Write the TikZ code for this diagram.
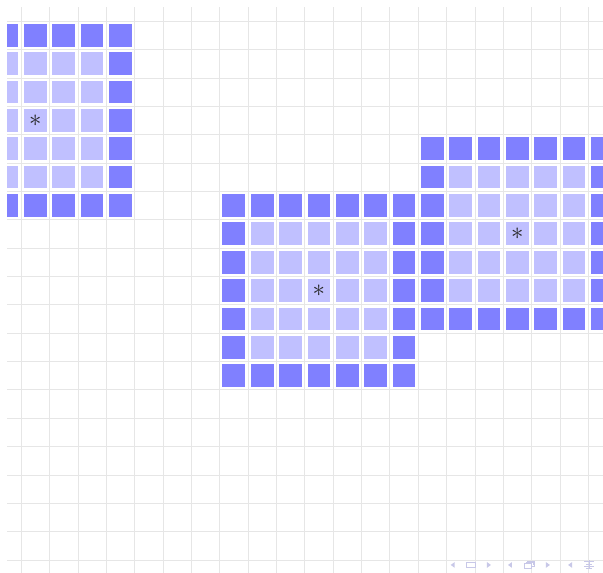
\documentclass[tikz,border=0pt]{standalone}
\usepackage{xcolor}
\usepackage{tikz}
\definecolor{cellD}{HTML}{8080FF}
\definecolor{cellL}{HTML}{C0C0FF}
\definecolor{gridL}{HTML}{E6E6E6}
\definecolor{navL}{HTML}{C8C8E8}
\tikzset{
  gridln/.style ={draw=gridL, line width=.6pt},
  rim/.style    ={fill=cellD},
  core/.style   ={fill=cellL},
  ctr/.style    ={inner sep=0pt, font=\Huge, text=black!85},
  nav/.style    ={fill=navL, draw=none},
  navln/.style  ={draw=navL, line width=.6pt},
}
\begin{document}
\begin{tikzpicture}[x=1cm, y=1cm]
  \useasboundingbox (-0.247,0.247) rectangle (21.022,-19.929);
  \begin{scope}
    \clip (0,0) rectangle (21.022,-19.929);
    \draw[gridln, shift={(0.5,0.5)}] (-1,-21) grid (21,0);
    % blocks: 7x7 rim with 5x5 core round a centre cell
    \foreach \cx/\cy in {1/4, 11/10, 18/8} {
      \foreach \i in {-3,...,3}
        \foreach \j in {-3,...,3}
          \fill[rim] ({\cx+\i-.4},{-\cy-\j-.4}) rectangle ++(.8,.8);
      \foreach \i in {-2,...,2}
        \foreach \j in {-2,...,2}
          \fill[core] ({\cx+\i-.4},{-\cy-\j-.4}) rectangle ++(.8,.8);
      \node[ctr] (c\cx) at (\cx,-\cy) {$\ast$};
    }
  \end{scope}
  % navigation symbols
  \fill[nav] (15.65,-19.68) -- ++(0.14,0.1) -- ++(0,-0.2) -- cycle;
  \draw[navln] (16.21,-19.77) rectangle (16.51,-19.60);
  \fill[nav] (17.07,-19.68) -- ++(-0.14,0.1) -- ++(0,-0.2) -- cycle;
  \fill[nav] (17.67,-19.68) -- ++(0.14,0.1) -- ++(0,-0.2) -- cycle;
  \draw[navln] (18.24,-19.80) rectangle (18.50,-19.62);
  \draw[navln] (18.34,-19.62) -- (18.34,-19.54) -- (18.60,-19.54) -- (18.60,-19.72) -- (18.50,-19.72);
  \draw[navln] (18.30,-19.62) -- (18.30,-19.58) -- (18.56,-19.58) -- (18.56,-19.68);
  \fill[nav] (19.15,-19.68) -- ++(-0.14,0.1) -- ++(0,-0.2) -- cycle;
  \fill[nav] (19.79,-19.68) -- ++(0.14,0.1) -- ++(0,-0.2) -- cycle;
  \draw[navln] (20.36,-19.56) -- (20.70,-19.56);
  \draw[navln] (20.42,-19.64) -- (20.64,-19.64);
  \draw[navln] (20.36,-19.72) -- (20.70,-19.72);
  \draw[navln] (20.42,-19.80) -- (20.64,-19.80);
  \draw[navln] (20.53,-19.52) -- (20.53,-19.84);
\end{tikzpicture}
\end{document}
